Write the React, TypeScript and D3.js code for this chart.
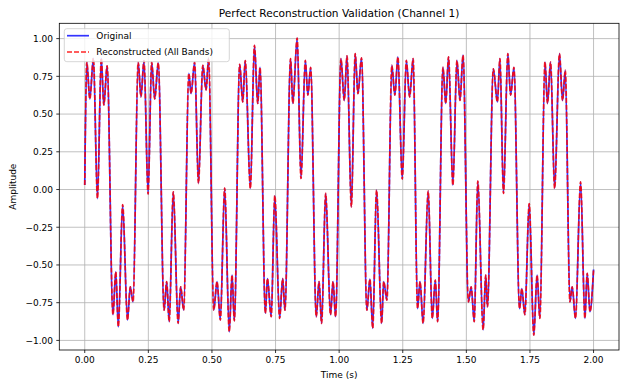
import React from 'react';
import { scaleLinear, line, curveMonotoneX, range } from 'd3';

// extrema of the waveform (time in s, amplitude)
const times = [
  0.000, 0.008, 0.020, 0.034, 0.050, 0.065, 0.075, 0.088, 0.111, 0.122,
  0.132, 0.149, 0.168, 0.179, 0.190, 0.210, 0.221, 0.233, 0.249, 0.263,
  0.275, 0.289, 0.312, 0.322, 0.332, 0.348, 0.367, 0.377, 0.389, 0.409,
  0.418, 0.432, 0.447, 0.464, 0.477, 0.487, 0.507, 0.520, 0.533, 0.550,
  0.568, 0.579, 0.588, 0.609, 0.621, 0.631, 0.651, 0.667, 0.680, 0.689,
  0.710, 0.718, 0.733, 0.747, 0.766, 0.778, 0.787, 0.809, 0.818, 0.835,
  0.850, 0.867, 0.877, 0.888, 0.910, 0.921, 0.931, 0.947, 0.966, 0.976,
  0.986, 1.007, 1.020, 1.031, 1.048, 1.063, 1.074, 1.088, 1.109, 1.121,
  1.132, 1.147, 1.167, 1.175, 1.188, 1.207, 1.219, 1.231, 1.248, 1.264,
  1.277, 1.291, 1.308, 1.318, 1.330, 1.350, 1.366, 1.378, 1.387, 1.408,
  1.419, 1.430, 1.447, 1.463, 1.475, 1.487, 1.508, 1.519, 1.531, 1.545,
  1.566, 1.576, 1.583, 1.606, 1.622, 1.632, 1.646, 1.663, 1.674, 1.687,
  1.709, 1.718, 1.730, 1.747, 1.765, 1.778, 1.789, 1.809, 1.819, 1.831,
  1.847, 1.866, 1.878, 1.889, 1.907, 1.916, 1.929, 1.949, 1.966, 1.975,
  1.986, 2.000
];

const original = [
  0.03, 0.845, 0.60, 0.87, -0.06, 0.87, 0.56, 0.82, -0.83, -0.545,
  -0.91, -0.10, -0.865, -0.645, -0.745, 0.845, 0.615, 0.855, -0.03, 0.845,
  0.60, 0.84, -0.80, -0.61, -0.876, -0.015, -0.887, -0.645, -0.80, 0.77,
  0.636, 0.845, 0.04, 0.823, 0.66, 0.87, -0.80, -0.61, -0.865, 0.01,
  -0.943, -0.567, -0.87, 0.83, 0.58, 0.855, 0.007, 0.956, 0.57, 0.81,
  -0.82, -0.59, -0.843, -0.04, -0.854, -0.59, -0.80, 0.868, 0.57, 1.004,
  0.073, 0.856, 0.625, 0.81, -0.843, -0.61, -0.887, -0.026, -0.83, -0.61,
  -0.843, 0.868, 0.59, 0.885, -0.115, 0.90, 0.636, 0.872, -0.80, -0.594,
  -0.92, -0.004, -0.887, -0.61, -0.733, 0.823, 0.625, 0.879, 0.068, 0.856,
  0.614, 0.868, -0.79, -0.61, -0.887, -0.011, -0.854, -0.60, -0.876, 0.81,
  0.57, 0.879, 0.029, 0.856, 0.59, 0.89, -0.744, -0.645, -0.876, 0.055,
  -0.93, -0.567, -0.777, 0.80, 0.58, 0.868, -0.026, 0.90, 0.625, 0.81,
  -0.79, -0.656, -0.83, -0.093, -0.965, -0.567, -0.854, 0.845, 0.57, 0.845,
  0.007, 0.90, 0.59, 0.79, -0.744, -0.645, -0.854, 0.05, -0.854, -0.556,
  -0.81, -0.53
];

// perfect reconstruction: same values as the original
const reconstructed = original.slice();

const xTicks = range(0, 9).map(i => i * 0.25);
const yTicks = range(0, 9).map(i => -1 + i * 0.25);

const W = 624;
const H = 387;
const left = 59.3;
const right = 619;
const top = 23.3;
const bottom = 350;

const font = '"DejaVu Sans", sans-serif';

function fmt(v: number) {
  const s = Math.abs(v).toFixed(2);
  return v < -1e-9 ? '\u2212' + s : s;
}

export default function App() {
  const x = scaleLinear().domain([-0.1, 2.1]).range([left, right]);
  const y = scaleLinear().domain([-1.0635, 1.1015]).range([bottom, top]);

  const path = (vals: number[]) =>
    line<number>()
      .x((_, i) => x(times[i]))
      .y(d => y(d))
      .curve(curveMonotoneX)(vals) || '';

  return (
    <svg width={W} height={H} style={{ position: 'absolute', left: 0, top: 0, background: '#fff' }}>
      <defs>
        <clipPath id="plot">
          <rect x={left} y={top} width={right - left} height={bottom - top} />
        </clipPath>
      </defs>

      {/* grid */}
      <g stroke="#b0b0b0" strokeWidth={0.8}>
        {xTicks.map(t => (
          <line key={'gx' + t} x1={x(t)} x2={x(t)} y1={top} y2={bottom} />
        ))}
        {yTicks.map(t => (
          <line key={'gy' + t} x1={left} x2={right} y1={y(t)} y2={y(t)} />
        ))}
      </g>

      {/* lines */}
      <g clipPath="url(#plot)" fill="none">
        <path d={path(original)} stroke="blue" strokeOpacity={0.8} strokeWidth={1.7} />
        <path d={path(reconstructed)} stroke="red" strokeOpacity={0.85} strokeWidth={1.7} strokeDasharray="5,2" />
      </g>

      {/* frame */}
      <rect x={left} y={top} width={right - left} height={bottom - top} fill="none" stroke="#000" strokeWidth={0.8} />

      {/* axes */}
      <g fontFamily={font} fontSize={9} fill="#000">
        {xTicks.map(t => (
          <g key={'xt' + t}>
            <line x1={x(t)} x2={x(t)} y1={bottom} y2={bottom + 3} stroke="#000" strokeWidth={0.8} />
            <text x={x(t)} y={bottom + 13} textAnchor="middle">{fmt(t)}</text>
          </g>
        ))}
        {yTicks.map(t => (
          <g key={'yt' + t}>
            <line x1={left - 3} x2={left} y1={y(t)} y2={y(t)} stroke="#000" strokeWidth={0.8} />
            <text x={left - 6.3} y={y(t) + 3.3} textAnchor="end">{fmt(t)}</text>
          </g>
        ))}
        <text x={(left + right) / 2} y={378} textAnchor="middle">Time (s)</text>
        <text transform={`translate(15.5,${(top + bottom) / 2}) rotate(-90)`} textAnchor="middle">Amplitude</text>
      </g>

      {/* title */}
      <text x={(left + right) / 2} y={16.5} textAnchor="middle" fontFamily={font} fontSize={10.6}>
        Perfect Reconstruction Validation (Channel 1)
      </text>

      {/* legend */}
      <g fontFamily={font} fontSize={9}>
        <rect x={64.3} y={28.7} width={165} height={33} rx={2.5} fill="#fff" fillOpacity={0.8} stroke="#ccc" strokeWidth={0.8} />
        <line x1={67} x2={89} y1={35.7} y2={35.7} stroke="blue" strokeOpacity={0.8} strokeWidth={1.7} />
        <text x={96.3} y={39}>Original</text>
        <line x1={67} x2={89} y1={52} y2={52} stroke="red" strokeOpacity={0.85} strokeWidth={1.7} strokeDasharray="5,2" />
        <text x={96.3} y={55.3}>Reconstructed (All Bands)</text>
      </g>
    </svg>
  );
}
